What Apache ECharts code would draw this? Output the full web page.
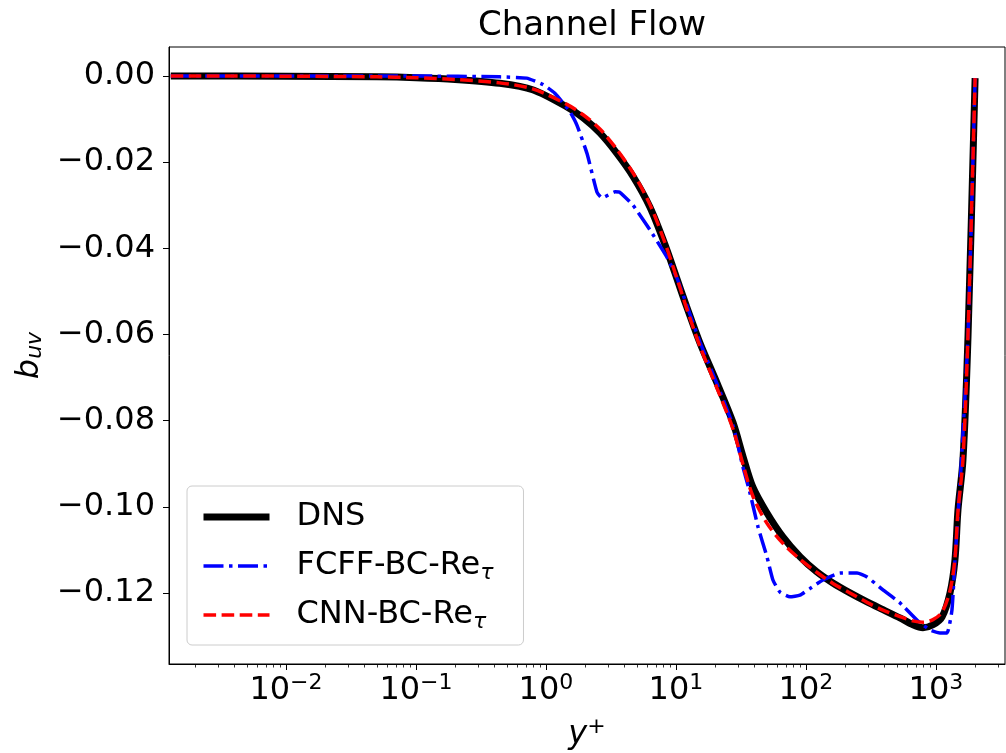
<!DOCTYPE html>
<html>
<head>
<meta charset="utf-8">
<title>Channel Flow</title>
<script src="https://cdn.jsdelivr.net/npm/echarts@6/dist/echarts.min.js"></script>
<style>
  html, body { margin: 0; padding: 0; background: #fff; }
  #chart { width: 1006px; height: 753px; }
</style>
</head>
<body>
<div id="chart"></div>
<script>
// Anisotropy component b_uv across a turbulent channel (Re_tau ~ 2000)

// DNS reference profile
const dnsYPlus = [0.0013, 0.01, 0.05, 0.1, 0.2, 0.44, 0.79, 1.45, 1.93, 2.6, 3.5, 4.7, 6.3, 8.2, 10.7, 12.1, 15.3, 20.7, 27.5, 33, 39, 50, 66.5, 90, 121, 161, 218, 295, 391, 528, 665, 794, 948, 1112, 1282, 1400, 1477, 1613, 1763, 2000];
const dnsBuv = [0, -0.00004, -0.0002, -0.0004, -0.0008, -0.0017, -0.0032, -0.0072, -0.0097, -0.0132, -0.0179, -0.0234, -0.0304, -0.039, -0.049, -0.0536, -0.062, -0.0713, -0.0805, -0.0886, -0.0954, -0.1014, -0.107, -0.1116, -0.1151, -0.1177, -0.120, -0.1221, -0.1239, -0.1258, -0.1274, -0.1281, -0.1274, -0.1256, -0.120, -0.1123, -0.1007, -0.0891, -0.0606, -0.0005];

// Fully connected feed-forward network prediction
const fcffYPlus = [0.0013, 0.1, 0.44, 0.71, 0.95, 1.17, 1.53, 1.73, 2.07, 2.47, 2.7, 3.4, 3.7, 4.67, 6.3, 8.5, 10.2, 12.1, 15.3, 20.7, 27.5, 32.7, 37.1, 42.8, 50.1, 55.7, 63.1, 75.3, 89.9, 107, 135, 183, 247, 295, 391, 528, 714, 899, 1074, 1216, 1327, 1400, 1530, 1763, 2000];
const fcffBuv = [0, 0, -0.0002, -0.0005, -0.002, -0.004, -0.0083, -0.0114, -0.018, -0.027, -0.0283, -0.0269, -0.027, -0.030, -0.0357, -0.042, -0.047, -0.0532, -0.0618, -0.0715, -0.0812, -0.0907, -0.0968, -0.1047, -0.1116, -0.117, -0.1198, -0.1209, -0.1205, -0.119, -0.117, -0.1154, -0.1154, -0.1163, -0.1193, -0.1223, -0.1263, -0.1286, -0.1293, -0.1293, -0.124, -0.1123, -0.095, -0.0606, -0.0005];

// Convolutional network prediction
const cnnYPlus = [0.0013, 0.01, 0.05, 0.1, 0.2, 0.44, 0.79, 1.45, 1.93, 2.6, 3.5, 4.7, 6.3, 8.2, 10.7, 12.1, 15.3, 20.7, 27.5, 33, 39, 50, 66.5, 90, 121, 161, 218, 295, 391, 528, 665, 794, 948, 1112, 1282, 1400, 1477, 1613, 1763, 2000];
const cnnBuv = [0, -0.00004, -0.0002, -0.0004, -0.0008, -0.0016, -0.003, -0.0066, -0.009, -0.0123, -0.0170, -0.0226, -0.0298, -0.0386, -0.049, -0.054, -0.0628, -0.0725, -0.082, -0.0905, -0.0975, -0.1038, -0.1085, -0.1122, -0.1152, -0.1178, -0.1200, -0.1222, -0.1240, -0.1255, -0.1265, -0.1268, -0.1262, -0.1245, -0.1195, -0.112, -0.101, -0.089, -0.0600, -0.0005];

// Axis ticks
const xMajorTicks = [0.01, 0.1, 1, 10, 100, 1000];
const xMinorTicks = [];
for (let e = -3; e <= 3; e++) {
  for (let m = 2; m <= 9; m++) {
    const v = m * Math.pow(10, e);
    if (v > 0.00126 && v < 3396) xMinorTicks.push(v);
  }
}
const yTicks = [-0.12, -0.10, -0.08, -0.06, -0.04, -0.02, 0.00];

const seriesNames = ['DNS', 'FCFF-BC-Re\u03c4', 'CNN-BC-Re\u03c4'];
const legendLabels = {
  'DNS': 'DNS',
  'FCFF-BC-Re\u03c4': 'FCFF-BC-Re{sub|\u03c4}',
  'CNN-BC-Re\u03c4': 'CNN-BC-Re{sub|\u03c4}'
};

const zip = (xs, ys) => xs.map((x, i) => [x, ys[i]]);
const FONT = 'DejaVu Sans';

const lineStyles = [
  { color: '#000000', width: 7, type: 'solid' },
  { color: '#0000ff', width: 3.5, type: [20, 5.5, 3.5, 5.5] },
  { color: '#ff0000', width: 3.5, type: [12.6, 5.5] }
];

const supRich = {
  sup: { fontSize: 22, fontFamily: FONT, color: '#000', verticalAlign: 'top', lineHeight: 19 }
};

const chart = echarts.init(document.getElementById('chart'), null, { renderer: 'canvas' });

const option = {
  animation: false,
  backgroundColor: '#ffffff',
  textStyle: { fontFamily: FONT },
  title: {
    text: 'Channel Flow',
    left: 587,
    top: 4,
    textAlign: 'center',
    textStyle: { fontSize: 34, fontWeight: 'normal', color: '#000', fontFamily: FONT }
  },
  grid: {
    left: 169, right: 1, top: 47, bottom: 89,
    show: true, borderColor: '#000', borderWidth: 1,
    outerBoundsMode: 'none'
  },
  legend: {
    orient: 'vertical',
    left: 187,
    top: 486,
    padding: [13, 30, 12, 13],
    itemWidth: 66,
    itemHeight: 14,
    itemGap: 13,
    backgroundColor: 'rgba(255,255,255,0.8)',
    borderColor: '#cccccc',
    borderWidth: 1,
    borderRadius: 5,
    data: seriesNames.map((n, i) => ({
      name: n,
      lineStyle: lineStyles[i],
      itemStyle: { opacity: 0, borderWidth: 0 }
    })),
    formatter: name => legendLabels[name],
    textStyle: {
      fontSize: 32, fontFamily: FONT, color: '#000', lineHeight: 36,
      padding: [0, 0, 0, 22],
      rich: {
        sub: { fontSize: 22, fontFamily: FONT, fontStyle: 'italic', color: '#000', verticalAlign: 'bottom', lineHeight: 12 }
      }
    }
  },
  xAxis: [
    {
      type: 'log',
      logBase: 10,
      min: 0.00126,
      max: 3396,
      position: 'bottom',
      axisLine: { show: true, onZero: false, lineStyle: { color: '#000', width: 1 } },
      axisTick: { show: true, inside: false, length: 6, lineStyle: { color: '#000', width: 1 }, customValues: xMajorTicks },
      minorTick: { show: false },
      splitLine: { show: false },
      axisLabel: {
        customValues: xMajorTicks,
        margin: 8,
        fontSize: 32,
        lineHeight: 38,
        fontFamily: FONT,
        color: '#000',
        formatter: v => {
          const e = Math.round(Math.log10(v));
          return '10{sup|' + (e < 0 ? '\u2212' + (-e) : String(e)) + '}';
        },
        rich: supRich
      },
      name: '{i|y}{sup|+}',
      nameLocation: 'middle',
      nameGap: 52,
      nameTextStyle: {
        fontSize: 32, lineHeight: 38, color: '#000',
        rich: {
          i: { fontSize: 32, fontStyle: 'italic', fontFamily: FONT, color: '#000', lineHeight: 38 },
          sup: supRich.sup
        }
      }
    },
    {
      // minor decade ticks
      type: 'log',
      logBase: 10,
      min: 0.00126,
      max: 3396,
      position: 'bottom',
      axisLine: { show: false, onZero: false },
      axisTick: { show: true, inside: false, length: 3.5, lineStyle: { color: '#000', width: 0.8 }, customValues: xMinorTicks },
      axisLabel: { show: false },
      splitLine: { show: false }
    }
  ],
  yAxis: {
    type: 'value',
    min: -0.1365,
    max: 0.00673,
    axisLine: { show: true, onZero: false, lineStyle: { color: '#000', width: 1 } },
    axisTick: { show: true, inside: false, length: 6, lineStyle: { color: '#000', width: 1 }, customValues: yTicks },
    splitLine: { show: false },
    axisLabel: {
      customValues: yTicks,
      margin: 14,
      fontSize: 32,
      fontFamily: FONT,
      color: '#000',
      formatter: v => (Math.abs(v) < 1e-9 ? '0.00' : '\u2212' + Math.abs(v).toFixed(2))
    },
    name: 'b{sub|uv}',
    nameLocation: 'middle',
    nameRotate: 90,
    nameGap: 122,
    nameTextStyle: {
      fontSize: 32, fontStyle: 'italic', fontFamily: FONT, color: '#000',
      rich: {
        sub: { fontSize: 22, fontStyle: 'italic', fontFamily: FONT, color: '#000', verticalAlign: 'bottom', lineHeight: 12 }
      }
    }
  },
  series: [
    {
      name: seriesNames[0], type: 'line', xAxisIndex: 0,
      data: zip(dnsYPlus, dnsBuv),
      symbol: 'none', smooth: 0.3,
      lineStyle: lineStyles[0],
      itemStyle: { color: '#000000' },
      z: 2
    },
    {
      name: seriesNames[1], type: 'line', xAxisIndex: 0,
      data: zip(fcffYPlus, fcffBuv),
      symbol: 'none', smooth: 0.15,
      lineStyle: lineStyles[1],
      itemStyle: { color: '#0000ff' },
      z: 3
    },
    {
      name: seriesNames[2], type: 'line', xAxisIndex: 0,
      data: zip(cnnYPlus, cnnBuv),
      symbol: 'none', smooth: 0.3,
      lineStyle: lineStyles[2],
      itemStyle: { color: '#ff0000' },
      z: 4
    }
  ]
};

chart.setOption(option);
</script>
</body>
</html>
